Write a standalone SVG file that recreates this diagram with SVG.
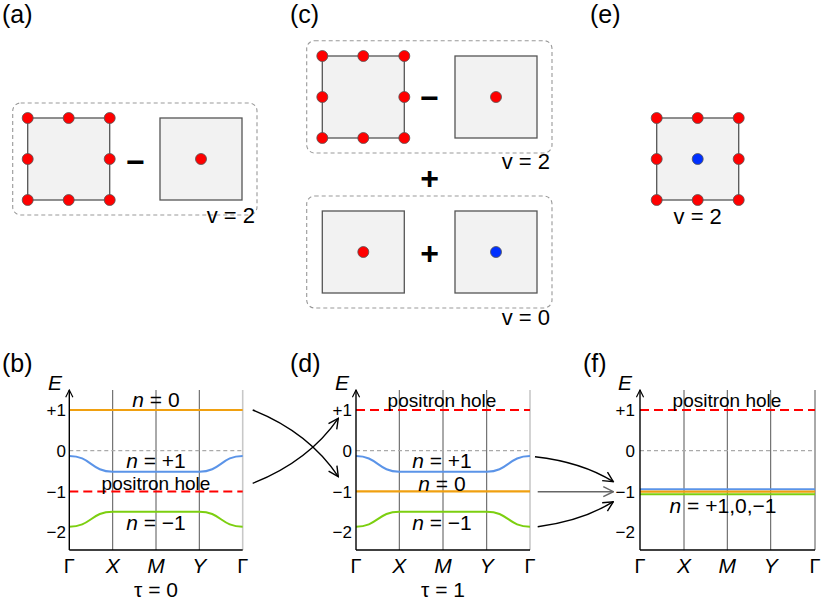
<svg xmlns="http://www.w3.org/2000/svg" width="822" height="603" viewBox="0 0 822 603">
<defs>
<style>
text{font-family:"Liberation Sans",Arial,sans-serif;fill:#000}
.lbl{font-size:25px}
.sq{fill:#f2f2f2;stroke:#555;stroke-width:1.3}
.box{fill:none;stroke:#999;stroke-width:1.1;stroke-dasharray:4,3}
.rd{fill:#ff0000;stroke:#555;stroke-width:0.8}
.bd{fill:#0030ff;stroke:#555;stroke-width:0.8}
.op{font-size:32px;font-weight:bold;text-anchor:middle}
.v{font-size:22px}
.grid{stroke:#555;stroke-width:1}
.gridl{stroke:#c8c8c8;stroke-width:1.6}
.axis{stroke:#000;stroke-width:1.4;fill:none}
.zero{stroke:#aaa;stroke-width:1.3;stroke-dasharray:4,3}
.hole{stroke:#ff0000;stroke-width:2;stroke-dasharray:9,5}
.or{stroke:#f0a010;stroke-width:2.2;fill:none}
.bl{stroke:#5b94e8;stroke-width:2;fill:none}
.gr{stroke:#7ccf10;stroke-width:2;fill:none}
.tk{font-size:17px;text-anchor:end}
.kp{font-size:20px;text-anchor:middle}
.kpi{font-size:21px;text-anchor:middle;font-style:italic}
.tau{font-size:21px;text-anchor:middle}
.n{font-size:21px;text-anchor:middle}
.ph{font-size:19px;text-anchor:middle}
.E{font-size:21px;font-style:italic}
.arr{fill:none;stroke:#000;stroke-width:1.4}
</style>
<marker id="ah" viewBox="0 0 12 12" refX="11" refY="6" markerWidth="12" markerHeight="12" markerUnits="userSpaceOnUse" orient="auto"><path d="M1,1 L11,6 L1,11" fill="none" stroke="#000" stroke-width="1.4"/></marker>
<marker id="ahg" viewBox="0 0 12 12" refX="11" refY="6" markerWidth="12" markerHeight="12" markerUnits="userSpaceOnUse" orient="auto"><path d="M1,1 L11,6 L1,11" fill="none" stroke="#666" stroke-width="1.4"/></marker>
<marker id="ax" viewBox="0 0 10 10" refX="9" refY="5" markerWidth="9" markerHeight="9" markerUnits="userSpaceOnUse" orient="auto"><path d="M1,1 L9,5 L1,9" fill="none" stroke="#000" stroke-width="1.3"/></marker>
</defs>
<rect width="822" height="603" fill="#fff"/>

<g id="panel-a">
<text class="lbl" x="2" y="23">(a)</text>
<rect class="box" x="12.7" y="103" width="244.3" height="112" rx="8"/>
<rect class="sq" x="27.7" y="118" width="82" height="82"/>
<circle class="rd" cx="27.7" cy="118" r="5.5"/><circle class="rd" cx="68.7" cy="118" r="5.5"/><circle class="rd" cx="109.7" cy="118" r="5.5"/>
<circle class="rd" cx="27.7" cy="159" r="5.5"/><circle class="rd" cx="109.7" cy="159" r="5.5"/>
<circle class="rd" cx="27.7" cy="200" r="5.5"/><circle class="rd" cx="68.7" cy="200" r="5.5"/><circle class="rd" cx="109.7" cy="200" r="5.5"/>
<text class="op" x="135.5" y="172.5">−</text>
<rect class="sq" x="160" y="118" width="82" height="82"/>
<circle class="rd" cx="201" cy="159" r="5.5"/>
<text class="v" x="255" y="223" text-anchor="end">v = 2</text>
</g>

<g id="panel-c">
<text class="lbl" x="290" y="23">(c)</text>
<rect class="box" x="306.7" y="40.7" width="245.3" height="112.3" rx="8"/>
<rect class="sq" x="322.3" y="56" width="82" height="82"/>
<circle class="rd" cx="322.3" cy="56" r="5.5"/><circle class="rd" cx="363.3" cy="56" r="5.5"/><circle class="rd" cx="404.3" cy="56" r="5.5"/>
<circle class="rd" cx="322.3" cy="97" r="5.5"/><circle class="rd" cx="404.3" cy="97" r="5.5"/>
<circle class="rd" cx="322.3" cy="138" r="5.5"/><circle class="rd" cx="363.3" cy="138" r="5.5"/><circle class="rd" cx="404.3" cy="138" r="5.5"/>
<text class="op" x="429.7" y="108.5">−</text>
<rect class="sq" x="455" y="56" width="82" height="82"/>
<circle class="rd" cx="496" cy="97" r="5.5"/>
<text class="v" x="550" y="169" text-anchor="end">v = 2</text>
<text class="op" x="429.7" y="189.3">+</text>
<rect class="box" x="306.7" y="196" width="245.3" height="112" rx="8"/>
<rect class="sq" x="322.3" y="211" width="82" height="82"/>
<circle class="rd" cx="363.3" cy="252" r="5.5"/>
<text class="op" x="429.7" y="264">+</text>
<rect class="sq" x="455" y="211" width="82" height="82"/>
<circle class="bd" cx="496" cy="252" r="5.5"/>
<text class="v" x="550" y="325" text-anchor="end">v = 0</text>
</g>

<g id="panel-e">
<text class="lbl" x="590" y="23">(e)</text>
<rect class="sq" x="656.7" y="118" width="82" height="82"/>
<circle class="rd" cx="656.7" cy="118" r="5.5"/><circle class="rd" cx="697.7" cy="118" r="5.5"/><circle class="rd" cx="738.7" cy="118" r="5.5"/>
<circle class="rd" cx="656.7" cy="159" r="5.5"/><circle class="bd" cx="697.7" cy="159" r="5.5"/><circle class="rd" cx="738.7" cy="159" r="5.5"/>
<circle class="rd" cx="656.7" cy="200" r="5.5"/><circle class="rd" cx="697.7" cy="200" r="5.5"/><circle class="rd" cx="738.7" cy="200" r="5.5"/>
<text class="v" x="697.7" y="224" text-anchor="middle">v = 2</text>
</g>

<g id="panel-b">
<text class="lbl" x="2" y="372">(b)</text>
<text class="E" x="48" y="390">E</text>
<line class="grid" x1="112.7" y1="390" x2="112.7" y2="550"/>
<line class="grid" x1="156" y1="390" x2="156" y2="550"/>
<line class="grid" x1="199.3" y1="390" x2="199.3" y2="550"/>
<line class="gridl" x1="242.7" y1="390" x2="242.7" y2="550"/>
<line class="zero" x1="69.3" y1="450.7" x2="242.7" y2="450.7"/>
<line class="or" x1="69.3" y1="410" x2="242.7" y2="410"/>
<path class="bl" d="M69.3,456 C91,456 91,471.7 112.7,471.7 L199.3,471.7 C221,471.7 221,456 242.7,456"/>
<line class="hole" x1="69.3" y1="491.4" x2="242.7" y2="491.4"/>
<path class="gr" d="M69.3,526.7 C91,526.7 91,511.7 112.7,511.7 L199.3,511.7 C221,511.7 221,526.7 242.7,526.7"/>
<path class="axis" d="M69.3,550 L69.3,390" marker-end="url(#ax)"/>
<line class="axis" x1="69.3" y1="550" x2="242.7" y2="550"/>
<text class="tk" x="66" y="416">+1</text>
<text class="tk" x="66" y="457">0</text>
<text class="tk" x="66" y="498">−1</text>
<text class="tk" x="66" y="538">−2</text>
<text class="kp" x="69.3" y="572.7">Γ</text>
<text class="kpi" x="112.7" y="572.7">X</text>
<text class="kpi" x="156" y="572.7">M</text>
<text class="kpi" x="199.3" y="572.7">Y</text>
<text class="kp" x="242.7" y="572.7">Γ</text>
<text class="n" x="156" y="407"><tspan font-style="italic">n</tspan> = 0</text>
<text class="n" x="156" y="468.3"><tspan font-style="italic">n</tspan> = +1</text>
<text class="ph" x="156" y="490">positron hole</text>
<text class="n" x="156" y="530"><tspan font-style="italic">n</tspan> = −1</text>
<text class="tau" x="156" y="597">τ = 0</text>
</g>

<g id="panel-d">
<text class="lbl" x="290" y="372">(d)</text>
<text class="E" x="335" y="390">E</text>
<line class="grid" x1="399.3" y1="390" x2="399.3" y2="550"/>
<line class="grid" x1="443" y1="390" x2="443" y2="550"/>
<line class="grid" x1="486.7" y1="390" x2="486.7" y2="550"/>
<line class="gridl" x1="530" y1="390" x2="530" y2="550"/>
<line class="zero" x1="356" y1="450.7" x2="530" y2="450.7"/>
<line class="hole" x1="356" y1="410" x2="530" y2="410"/>
<path class="bl" d="M356,456 C377.7,456 377.7,471.7 399.3,471.7 L486.7,471.7 C508.3,471.7 508.3,456 530,456"/>
<line class="or" x1="356" y1="491.4" x2="530" y2="491.4"/>
<path class="gr" d="M356,526.7 C377.7,526.7 377.7,511.7 399.3,511.7 L486.7,511.7 C508.3,511.7 508.3,526.7 530,526.7"/>
<path class="axis" d="M356,550 L356,390" marker-end="url(#ax)"/>
<line class="axis" x1="356" y1="550" x2="530" y2="550"/>
<text class="tk" x="352" y="416">+1</text>
<text class="tk" x="352" y="457">0</text>
<text class="tk" x="352" y="498">−1</text>
<text class="tk" x="352" y="538">−2</text>
<text class="kp" x="356" y="572.7">Γ</text>
<text class="kpi" x="399.3" y="572.7">X</text>
<text class="kpi" x="443" y="572.7">M</text>
<text class="kpi" x="486.7" y="572.7">Y</text>
<text class="kp" x="530" y="572.7">Γ</text>
<text class="ph" x="442" y="407">positron hole</text>
<text class="n" x="442" y="468.3"><tspan font-style="italic">n</tspan> = +1</text>
<text class="n" x="442" y="491"><tspan font-style="italic">n</tspan> = 0</text>
<text class="n" x="442" y="530"><tspan font-style="italic">n</tspan> = −1</text>
<text class="tau" x="443" y="597">τ = 1</text>
</g>

<g id="panel-f">
<text class="lbl" x="583" y="372">(f)</text>
<text class="E" x="618" y="390">E</text>
<line class="grid" x1="684" y1="390" x2="684" y2="550"/>
<line class="grid" x1="727.3" y1="390" x2="727.3" y2="550"/>
<line class="grid" x1="770.7" y1="390" x2="770.7" y2="550"/>
<line class="grid" x1="815" y1="390" x2="815" y2="550"/>
<line class="zero" x1="640" y1="450.7" x2="815" y2="450.7"/>
<line class="hole" x1="640" y1="410" x2="815" y2="410"/>
<line class="bl" x1="640" y1="489.2" x2="815" y2="489.2"/>
<line class="or" x1="640" y1="491.6" x2="815" y2="491.6"/>
<line class="gr" x1="640" y1="494.2" x2="815" y2="494.2"/>
<path class="axis" d="M640,550 L640,390" marker-end="url(#ax)"/>
<line class="axis" x1="640" y1="550" x2="815" y2="550"/>
<text class="tk" x="635" y="416">+1</text>
<text class="tk" x="635" y="457">0</text>
<text class="tk" x="635" y="498">−1</text>
<text class="tk" x="635" y="538">−2</text>
<text class="kp" x="640" y="572.7">Γ</text>
<text class="kpi" x="684" y="572.7">X</text>
<text class="kpi" x="727.3" y="572.7">M</text>
<text class="kpi" x="770.7" y="572.7">Y</text>
<text class="kp" x="815" y="572.7">Γ</text>
<text class="ph" x="727" y="407">positron hole</text>
<text class="n" x="723" y="512.7"><tspan font-style="italic">n</tspan> = +1,0,−1</text>
</g>

<g id="connectors">
<path class="arr" d="M252.7,410 Q308.8,432.4 338.3,476.7" marker-end="url(#ah)"/>
<path class="arr" d="M252.7,483.3 Q308.8,461 338.3,418.3" marker-end="url(#ah)"/>
<path class="arr" d="M535,456.7 Q582,462 613.3,481.7" marker-end="url(#ah)"/>
<path class="arr" d="M537.7,491.7 L613.3,491.7" style="stroke:#666" marker-end="url(#ahg)"/>
<path class="arr" d="M537.7,526.7 Q582,521 613.3,501.7" marker-end="url(#ah)"/>
</g>
</svg>
